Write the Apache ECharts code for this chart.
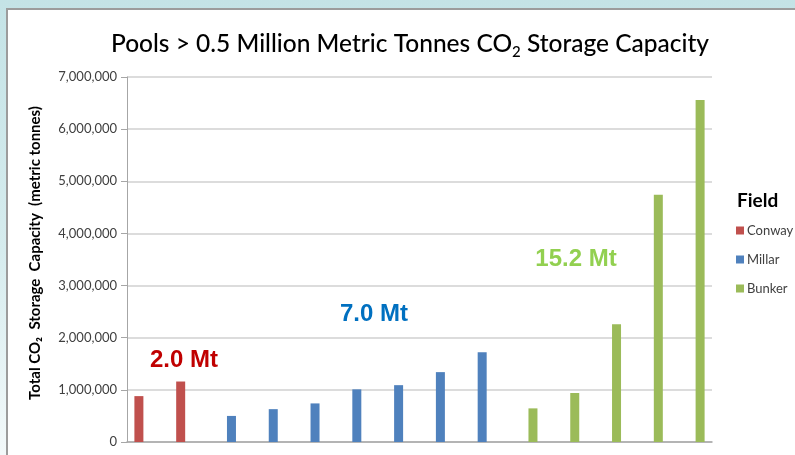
<!DOCTYPE html>
<html>
<head>
<meta charset="utf-8">
<script src="https://cdn.jsdelivr.net/npm/echarts@6/dist/echarts.min.js"></script>
<style>
  html, body { margin: 0; padding: 0; }
  body { background: linear-gradient(to bottom, #c4e3e6 0%, #d6ecee 55%, #f3f9fa 100%); }
  #main { width: 795px; height: 455px; }
</style>
</head>
<body>
<div id="main"></div>
<script>
// pools, in chart order
const pools = ["C1", "C2", "M1", "M2", "M3", "M4", "M5", "M6", "M7", "B1", "B2", "B3", "B4", "B5"];
const conway = [880000, 1160000, null, null, null, null, null, null, null, null, null, null, null, null];
const millar = [null, null, 500000, 630000, 740000, 1010000, 1090000, 1340000, 1720000, null, null, null, null, null];
const bunker = [null, null, null, null, null, null, null, null, null, 645000, 940000, 2260000, 4740000, 6560000];
const fieldTotals = ["2.0 Mt", "7.0 Mt", "15.2 Mt"];
const yTicks = [0, 1000000, 2000000, 3000000, 4000000, 5000000, 6000000, 7000000];

let myChart = echarts.init(document.getElementById("main"));

let option = {
  animation: false,
  title: {
    text: "Pools > 0.5 Million Metric Tonnes CO{sub|2} Storage Capacity",
    left: 405,
    textAlign: "center",
    top: 23,
    textStyle: {
      fontFamily: "Lato",
      fontSize: 24.5,
      fontWeight: 500,
      color: "#000",
      lineHeight: 32,
      rich: {
        sub: { fontFamily: "Lato", fontSize: 15, fontWeight: 500, lineHeight: 14, verticalAlign: "bottom", color: "#000" },
      },
    },
  },
  grid: { left: 127, right: 83, top: 77, bottom: 13 },
  legend: {
    orient: "vertical",
    left: 736,
    top: 224,
    padding: 0,
    icon: "rect",
    itemWidth: 8,
    itemHeight: 8,
    itemGap: 16,
    textStyle: { fontFamily: "Lato", fontSize: 13, color: "#404040", padding: [0, 0, 0, -2] },
    data: ["Conway", "Millar", "Bunker"],
  },
  xAxis: {
    type: "category",
    data: pools,
    axisLine: { lineStyle: { color: "#a6a6a6", width: 1.5 } },
    axisTick: { show: false },
    axisLabel: { show: false },
  },
  yAxis: {
    type: "value",
    min: yTicks[0],
    max: yTicks[yTicks.length - 1],
    interval: 1000000,
    axisLine: { show: true, lineStyle: { color: "#a6a6a6", width: 1 } },
    axisTick: { show: true, length: 6, lineStyle: { color: "#a6a6a6" } },
    axisLabel: {
      margin: 10,
      fontFamily: "Lato",
      fontSize: 13,
      color: "#404040",
      formatter: (v) => v.toLocaleString("en-US"),
    },
    splitLine: { lineStyle: { color: "#d0d0d0", width: 1.5 } },
  },
  graphic: [
    {
      type: "rect",
      z: -10,
      shape: { x: 7, y: 9, width: 800, height: 460 },
      style: { fill: "#fff", stroke: "#9c9c9c", lineWidth: 2 },
    },
    {
      type: "text",
      x: 35,
      y: 253,
      rotation: Math.PI / 2,
      style: {
        text: "Total CO₂  Storage  Capacity  (metric tonnes)",
        font: "bold 15px Lato",
        fill: "#000",
        textAlign: "center",
        textVerticalAlign: "middle",
      },
    },
    {
      type: "text",
      x: 737,
      y: 201,
      style: { text: "Field", font: "bold 19px Lato", fill: "#000", textVerticalAlign: "middle" },
    },
    {
      type: "text",
      x: 184,
      y: 360,
      style: { text: fieldTotals[0], font: "bold 24px 'Liberation Sans'", fill: "#c00000", textAlign: "center", textVerticalAlign: "middle" },
    },
    {
      type: "text",
      x: 374,
      y: 314,
      style: { text: fieldTotals[1], font: "bold 24px 'Liberation Sans'", fill: "#0070c0", textAlign: "center", textVerticalAlign: "middle" },
    },
    {
      type: "text",
      x: 576,
      y: 259,
      style: { text: fieldTotals[2], font: "bold 24px 'Liberation Sans'", fill: "#92d050", textAlign: "center", textVerticalAlign: "middle" },
    },
  ],
  series: [
    { name: "Conway", type: "bar", data: conway, barWidth: 9, barGap: "0%", itemStyle: { color: "#c0504d" } },
    { name: "Millar", type: "bar", data: millar, barWidth: 9, barGap: "0%", itemStyle: { color: "#4f81bd" } },
    { name: "Bunker", type: "bar", data: bunker, barWidth: 9, barGap: "0%", itemStyle: { color: "#9bbb59" } },
  ],
};
myChart.setOption(option);
</script>
</body>
</html>
